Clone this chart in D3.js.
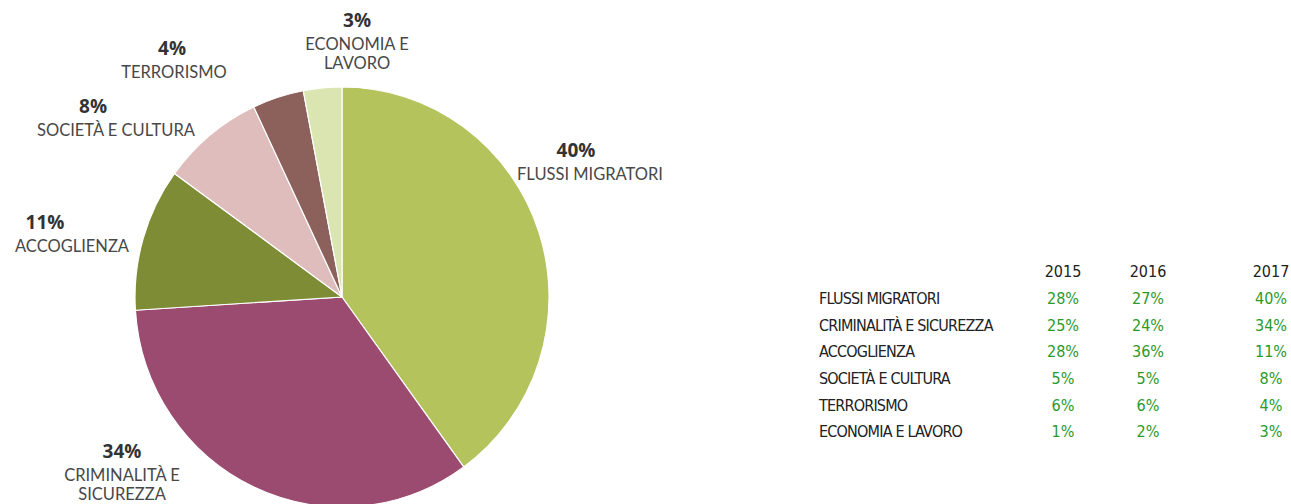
<!DOCTYPE html>
<html>
<head>
<meta charset="utf-8">
<script src="https://cdn.jsdelivr.net/npm/d3@7"></script>
<style>
  body { margin: 0; background: #fff; }
  text.pct { font-family: "Open Sans", sans-serif; font-weight: bold; font-size: 19px; fill: #333; }
  text.lab { font-family: Lato, "Open Sans", sans-serif; font-size: 16.5px; fill: #484848; }
  text.th  { font-family: "DejaVu Sans Condensed", "DejaVu Sans", sans-serif; font-size: 16px; fill: #222; }
  text.td  { font-family: "DejaVu Sans Condensed", "DejaVu Sans", sans-serif; font-size: 16px; fill: #2a9a2a; }
  text.rl  { font-family: "DejaVu Sans Condensed", "DejaVu Sans", sans-serif; font-size: 16px; fill: #222; letter-spacing: -0.8px; }
</style>
</head>
<body>
<div id="chart"></div>
<script>
// temi 2017 (torta) e confronto per anno (tabella)
var categories = ["FLUSSI MIGRATORI", "CRIMINALITÀ E SICUREZZA", "ACCOGLIENZA",
                  "SOCIETÀ E CULTURA", "TERRORISMO", "ECONOMIA E LAVORO"];
var years = ["2015", "2016", "2017"];
var values2015 = [28, 25, 28, 5, 6, 1];
var values2016 = [27, 24, 36, 5, 6, 2];
var values2017 = [40, 34, 11, 8, 4, 3];
var colors = ["#b4c35c", "#9b4b70", "#7e8c36", "#dfbdbd", "#8c615b", "#dbe5b2"];
// etichette della torta, spezzate su piu righe
var pieLabels = [["FLUSSI MIGRATORI"], ["CRIMINALITÀ E", "SICUREZZA"], ["ACCOGLIENZA"],
                 ["SOCIETÀ E CULTURA"], ["TERRORISMO"], ["ECONOMIA E", "LAVORO"]];
// x, y del gruppo, spostamento x della percentuale
var labelPos = [[590, 150, -14], [122, 451, 0], [72, 222, -27], [116, 106, -23], [174, 48, -2], [357, 20, 0]];

var w = 1291, h = 504;
var svg = d3.select("#chart").append("svg")
  .attr("width", w).attr("height", h);

// torta (leggermente ellittica come nell'originale)
var cx = 342, cy = 297, rx = 207, ry = 210;
var pie = d3.pie().sort(null).value(function(d) { return d; });
var arc = d3.arc().innerRadius(0).outerRadius(1);

var g = svg.append("g")
  .attr("transform", "translate(" + cx + "," + cy + ") scale(" + rx + "," + ry + ")");

g.selectAll("path")
  .data(pie(values2017))
  .enter()
  .append("path")
  .attr("d", arc)
  .attr("fill", function(d, i) { return colors[i]; })
  .attr("stroke", "#fff")
  .attr("stroke-width", 1.2)
  .attr("vector-effect", "non-scaling-stroke");

var labs = svg.append("g").selectAll("g.label")
  .data(values2017)
  .enter()
  .append("g")
  .classed("label", true)
  .attr("transform", function(d, i) { return "translate(" + labelPos[i][0] + "," + labelPos[i][1] + ")"; });

labs.append("text")
  .classed("pct", true)
  .attr("text-anchor", "middle")
  .attr("x", function(d, i) { return labelPos[i][2]; })
  .attr("dy", "0.35em")
  .text(function(d) { return d + "%"; });

labs.each(function(d, i) {
  d3.select(this).selectAll("text.lab")
    .data(pieLabels[i])
    .enter()
    .append("text")
    .classed("lab", true)
    .attr("text-anchor", "middle")
    .attr("y", function(t, j) { return 24 + j * 19; })
    .attr("dy", "0.35em")
    .text(function(t) { return t; });
});

// tabella
var colX = d3.scaleOrdinal().domain(years).range([1063, 1148, 1271]);
var rowY = d3.scaleBand().domain(categories).range([285, 445]);
var tableVals = [values2015, values2016, values2017];

var table = svg.append("g");
table.selectAll("text.th")
  .data(years)
  .enter()
  .append("text")
  .classed("th", true)
  .attr("text-anchor", "middle")
  .attr("x", function(d) { return colX(d); })
  .attr("y", 271)
  .attr("dy", "0.35em")
  .text(function(d) { return d; });

table.selectAll("text.rl")
  .data(categories)
  .enter()
  .append("text")
  .classed("rl", true)
  .attr("x", 819)
  .attr("y", function(d) { return rowY(d) + rowY.bandwidth() / 2; })
  .attr("dy", "0.35em")
  .text(function(d) { return d; });

years.forEach(function(yr, k) {
  table.selectAll("text.td" + yr)
    .data(tableVals[k])
    .enter()
    .append("text")
    .attr("class", "td td" + yr)
    .attr("text-anchor", "middle")
    .attr("x", colX(yr))
    .attr("y", function(d, i) { return rowY(categories[i]) + rowY.bandwidth() / 2; })
    .attr("dy", "0.35em")
    .text(function(d) { return d + "%"; });
});
</script>
</body>
</html>
